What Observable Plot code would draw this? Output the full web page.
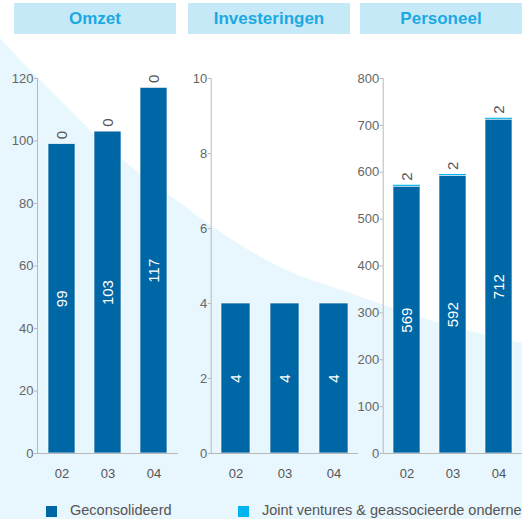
<!DOCTYPE html>
<html><head><meta charset="utf-8">
<script src="https://cdn.jsdelivr.net/npm/d3@7"></script>
<script src="https://cdn.jsdelivr.net/npm/@observablehq/plot@0.6"></script>
<style>
html,body{margin:0;padding:0;background:#fff;}
#root{position:relative;width:522px;height:519px;overflow:hidden;background:#e8f6fd;font-family:"Liberation Sans",Arial,sans-serif;}
.hdr{position:absolute;top:3px;height:31px;width:162px;background:#c6e9f8;color:#1ba9e3;font-weight:bold;font-size:17px;line-height:31px;text-align:center;}
.pl{position:absolute;top:60px;}
.leg{position:absolute;top:502px;font-size:14.5px;color:#555;white-space:nowrap;}
.sw{position:absolute;top:506px;width:11px;height:11px;}
</style></head>
<body><div id="root"></div>
<script>
const years = ["02","03","04"];
const titles = ["Omzet","Investeringen","Personeel"];
const omzetMain = [99,103,117];
const omzetJV = [0,0,0];
const invMain = [4,4,4];
const persMain = [569,592,712];
const persJV = [2,2,2];
const seriesNames = ["Geconsolideerd","Joint ventures & geassocieerde ondernemingen"];
const colors = ["#0067a6","#00b4ef"];
// decorative background curve (not data)
const bgCurve = [[0,38],[20,60],[37,77],[123,160],[180,203],[213,227],[280,267],[350,293],[440,323],[522,343]];

const root = document.getElementById("root");
const bg = d3.select(root).append("svg").attr("width",522).attr("height",519).style("position","absolute").style("left",0).style("top",0);
const line = d3.line().curve(d3.curveMonotoneX);
bg.append("path").attr("d", line(bgCurve) + " L522,0 L0,0 Z").attr("fill","#fff");

[14,188,360].forEach((x,i)=>{
  const d=document.createElement("div"); d.className="hdr"; d.style.left=x+"px"; d.textContent=titles[i]; root.appendChild(d);
});

function panel({main, jv, max, step, left, marginLeft, showJV}) {
  const mainData = years.map((y,i)=>({year:y, series:seriesNames[0], value:main[i]}));
  const jvData = jv ? years.map((y,i)=>({year:y, series:seriesNames[1], base:main[i], value:jv[i], top:main[i]+jv[i]})) : [];
  const marks = [
    Plot.barY(mainData, {x:"year", y:"value", fill:"series", stroke:"#ffffff", strokeWidth:0.8, strokeOpacity:0.8}),
    Plot.barY(jvData.filter(d=>d.value>0), {x:"year", y1:d=>d.base, y2:"top", fill:"series", insetTop:-0.6, insetBottom:0.4}),
    Plot.ruleY([0], {stroke:"#b8b8b8", strokeWidth:1}),
    Plot.frame({anchor:"left", stroke:"#b8b8b8"}),
    Plot.axisY({ticks:d3.range(0,max+1e-9,step), tickSize:3, tickPadding:1, stroke:"#b8b8b8", fill:"#666", fontSize:13, label:null}),
    Plot.axisX({tickSize:0, tickPadding:15, fill:"#555", fontSize:13, label:null}),
    Plot.text(mainData, {x:"year", y:d=>d.value/2, text:d=>String(d.value), rotate:-90, fill:"white", fontSize:15})
  ];
  if (showJV) marks.push(Plot.text(jvData, {x:"year", y:"top", text:d=>String(d.value), rotate:-90, textAnchor:"start", dy:-5, fill:"#555", fontSize:15}));
  const p = Plot.plot({
    width:180, height:430, marginLeft, marginRight:2, marginTop:18, marginBottom:37,
    style:{fontFamily:"Liberation Sans, Arial, sans-serif", background:"transparent", overflow:"visible"},
    x:{domain:years, paddingInner:0.415, paddingOuter:0.21, axis:null},
    y:{domain:[0,max], axis:null},
    color:{domain:seriesNames, range:colors},
    marks
  });
  p.classList.add("pl"); p.style.left=left+"px";
  root.appendChild(p);
}
panel({main:omzetMain, jv:omzetJV, max:120, step:20, left:0, marginLeft:37, showJV:true});
panel({main:invMain, jv:null, max:10, step:2, left:180, marginLeft:30.7, showJV:false});
panel({main:persMain, jv:persJV, max:800, step:100, left:345, marginLeft:37.7, showJV:true});

[[46,70],[238,262]].forEach(([sx,tx],i)=>{
  const s=document.createElement("div"); s.className="sw"; s.style.left=sx+"px"; s.style.background=colors[i]; root.appendChild(s);
  const t=document.createElement("div"); t.className="leg"; t.style.left=tx+"px"; t.textContent=seriesNames[i]; root.appendChild(t);
});
</script></body></html>
